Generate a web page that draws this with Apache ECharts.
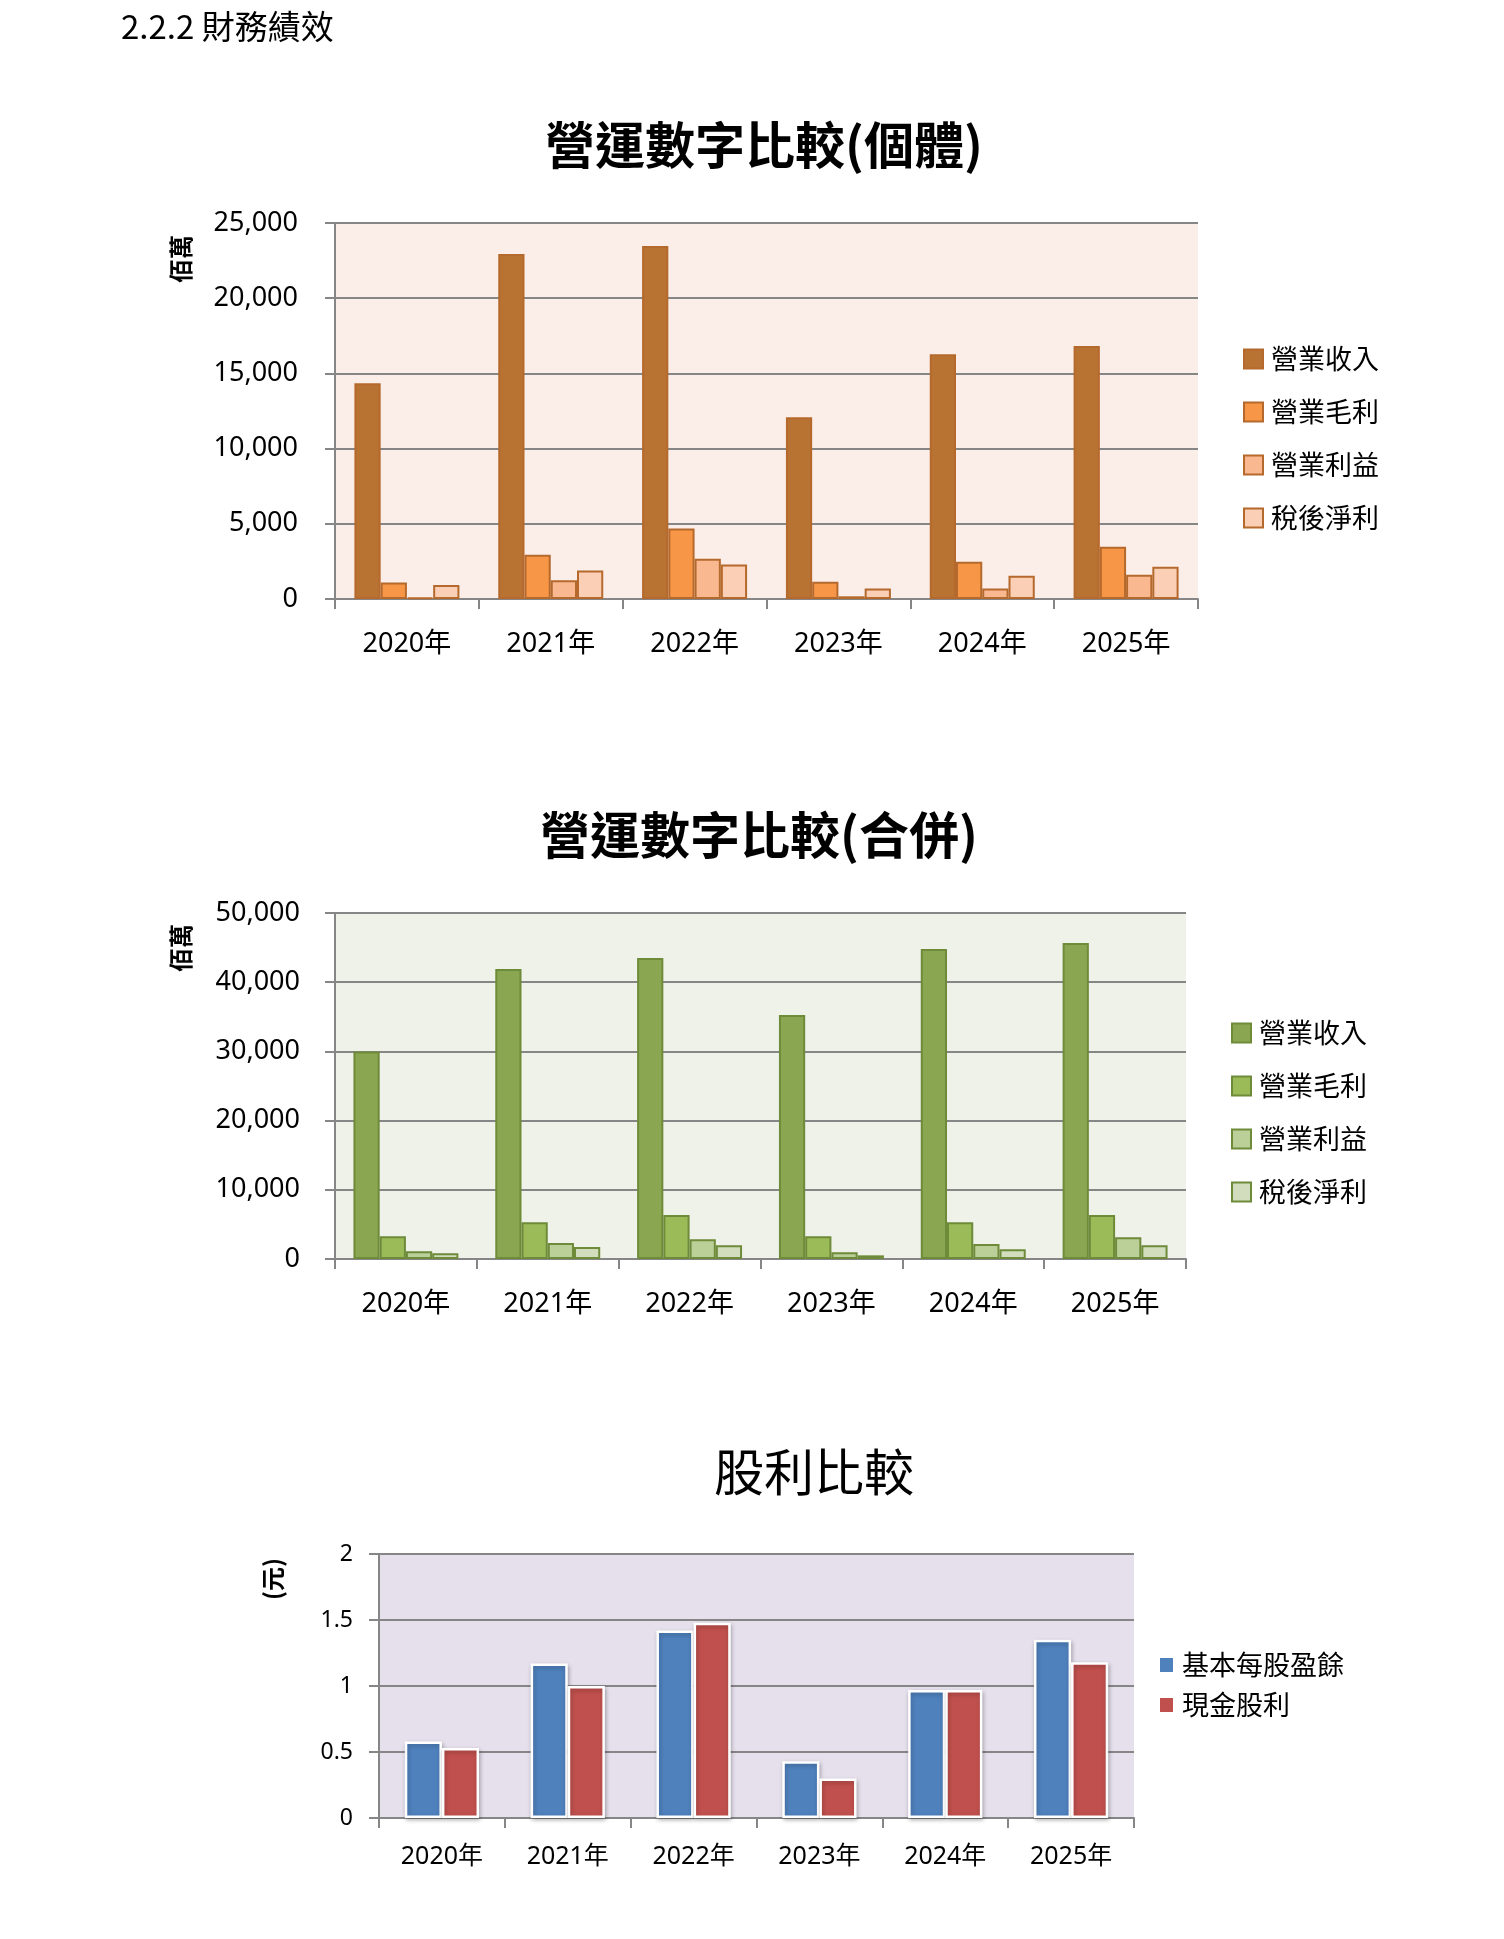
<!DOCTYPE html>
<html>
<head>
<meta charset="utf-8">
<title>財務績效</title>
<script src="https://cdn.jsdelivr.net/npm/echarts@6/dist/echarts.min.js"></script>
<style>
  html, body { margin: 0; padding: 0; background: #fff; }
  #main-canvas { width: 1504px; height: 1939px; }
</style>
</head>
<body>
<div id="main-canvas"></div>
<script>
// 年度
var years = ['2020年', '2021年', '2022年', '2023年', '2024年', '2025年'];

// 個體 (佰萬)
var soloRevenue   = [14350, 22940, 23470, 12090, 16280, 16820];
var soloGross     = [1090, 2950, 4680, 1150, 2480, 3480];
var soloOperating = [100, 1240, 2680, 180, 690, 1620];
var soloNet       = [930, 1890, 2290, 690, 1550, 2150];

// 合併 (佰萬)
var consRevenue   = [30000, 41900, 43500, 35250, 44800, 45650];
var consGross     = [3280, 5300, 6360, 3280, 5300, 6360];
var consOperating = [1110, 2310, 2840, 960, 2170, 3130];
var consNet       = [820, 1740, 1980, 530, 1400, 1980];

// 股利 (元)
var eps          = [0.58, 1.17, 1.42, 0.43, 0.97, 1.35];
var cashDividend = [0.53, 1.00, 1.48, 0.30, 0.97, 1.18];

var seriesNames = ['營業收入', '營業毛利', '營業利益', '稅後淨利'];
var dividendNames = ['基本每股盈餘', '現金股利'];

var numFont = "'Noto Sans', 'Noto Sans CJK TC', sans-serif";
var cjkFont = "'Noto Sans CJK TC', 'Noto Sans', sans-serif";
var gridGray = '#868686';

var myChart = echarts.init(document.getElementById('main-canvas'));

function makeXAxis(gridIndex, fontSize, margin)
{
    return {
        type: 'category',
        gridIndex: gridIndex,
        data: years,
        axisLine: { show: true, lineStyle: { color: gridGray, width: 2 } },
        axisTick: { show: true, length: 10, interval: 0, lineStyle: { color: gridGray, width: 2 } },
        axisLabel: { color: '#000', fontFamily: numFont, fontSize: fontSize, margin: margin }
    };
}

function makeYAxis(gridIndex, max, interval, fontSize, margin, withComma)
{
    return {
        type: 'value',
        gridIndex: gridIndex,
        min: 0,
        max: max,
        interval: interval,
        axisLine: { show: true, lineStyle: { color: gridGray, width: 2 } },
        axisTick: { show: true, length: 10, lineStyle: { color: gridGray, width: 2 } },
        splitLine: { show: true, lineStyle: { color: gridGray, width: 2 } },
        axisLabel: {
            color: '#000',
            fontFamily: numFont,
            fontSize: fontSize,
            margin: margin,
            formatter: function (v) {
                return withComma ? v.toLocaleString('en-US') : String(v);
            }
        }
    };
}

function makeBar(name, idx, data, fill, border, gap)
{
    return {
        name: name,
        type: 'bar',
        xAxisIndex: idx,
        yAxisIndex: idx,
        data: data,
        barGap: '0%',
        barCategoryGap: gap,
        itemStyle: { color: fill, borderColor: border, borderWidth: 2 },
        emphasis: { disabled: true },
        animation: false
    };
}

var soloBorder = '#B5692D';
var consBorder = '#6E8B3A';

var series = [
    makeBar('營業收入', 0, soloRevenue, '#B87333', soloBorder, '27%'),
    makeBar('營業毛利', 0, soloGross, '#F79646', soloBorder, '27%'),
    makeBar('營業利益', 0, soloOperating, '#F9B890', soloBorder, '27%'),
    makeBar('稅後淨利', 0, soloNet, '#FBCFB5', soloBorder, '27%'),
    makeBar('合併營業收入', 1, consRevenue, '#8BA650', consBorder, '26%'),
    makeBar('合併營業毛利', 1, consGross, '#9BBB59', consBorder, '26%'),
    makeBar('合併營業利益', 1, consOperating, '#BBCF98', consBorder, '26%'),
    makeBar('合併稅後淨利', 1, consNet, '#D1DDBC', consBorder, '26%')
];

var dividendColors = ['#4F81BD', '#C0504D'];
[eps, cashDividend].forEach(function (d, i) {
    series.push({
        name: dividendNames[i],
        type: 'bar',
        xAxisIndex: 2,
        yAxisIndex: 2,
        data: d,
        barGap: '0%',
        barCategoryGap: '41%',
        itemStyle: {
            color: dividendColors[i],
            borderColor: '#fff',
            borderWidth: 2.5,
            shadowColor: 'rgba(0,0,0,0.25)',
            shadowBlur: 4,
            shadowOffsetX: 1,
            shadowOffsetY: 2
        },
        emphasis: { disabled: true },
        animation: false
    });
});

function makeLegend(names, left, top, gap, iconW, iconH, formatter)
{
    return {
        orient: 'vertical',
        left: left,
        top: top,
        padding: 0,
        icon: 'rect',
        itemWidth: iconW,
        itemHeight: iconH,
        itemGap: gap,
        selectedMode: false,
        data: names,
        formatter: formatter,
        textStyle: { color: '#000', fontFamily: cjkFont, fontSize: 27, lineHeight: 28, padding: [0, 0, 0, 3] }
    };
}

function text(str, x, y, size, weight, rotate)
{
    return {
        type: 'text',
        x: x,
        y: y,
        rotation: rotate ? Math.PI / 2 : 0,
        style: {
            text: str,
            fill: '#000',
            fontFamily: cjkFont,
            fontSize: size,
            fontWeight: weight,
            align: 'center',
            verticalAlign: 'middle'
        }
    };
}

var option = {
    backgroundColor: '#fff',
    animation: false,
    grid: [
        { left: 335, top: 223, width: 863, height: 376, show: true, backgroundColor: '#FBEEE9', borderWidth: 0 },
        { left: 335, top: 913, width: 851, height: 346, show: true, backgroundColor: '#EFF2E9', borderWidth: 0 },
        { left: 379, top: 1554, width: 755, height: 264, show: true, backgroundColor: '#E5E0EC', borderWidth: 0 }
    ],
    xAxis: [
        makeXAxis(0, 27, 32),
        makeXAxis(1, 27, 32),
        makeXAxis(2, 25, 26)
    ],
    yAxis: [
        makeYAxis(0, 25000, 5000, 27, 37, true),
        makeYAxis(1, 50000, 10000, 27, 35, true),
        makeYAxis(2, 2, 0.5, 23, 26, false)
    ],
    legend: [
        makeLegend(seriesNames, 1243, 345, 25, 19, 19),
        makeLegend(seriesNames.map(function (n) { return '合併' + n; }), 1231, 1019, 25, 19, 19,
            function (name) { return name.replace('合併', ''); }),
        makeLegend(dividendNames, 1158, 1651, 12, 15, 16)
    ],
    graphic: [
        {
            type: 'text',
            left: 121,
            top: 10,
            style: { text: '2.2.2 財務績效', fill: '#000', fontFamily: cjkFont, fontSize: 33 }
        },
        text('營運數字比較(個體)', 764, 145, 50, 'bold', false),
        text('營運數字比較(合併)', 759, 835, 50, 'bold', false),
        text('股利比較', 814, 1472, 50, 'normal', false),
        text('佰萬', 181, 259, 24, 'bold', true),
        text('佰萬', 181, 948, 24, 'bold', true),
        text('(元)', 273, 1579, 24, 'bold', true)
    ],
    series: series
};

myChart.setOption(option);
</script>
</body>
</html>
